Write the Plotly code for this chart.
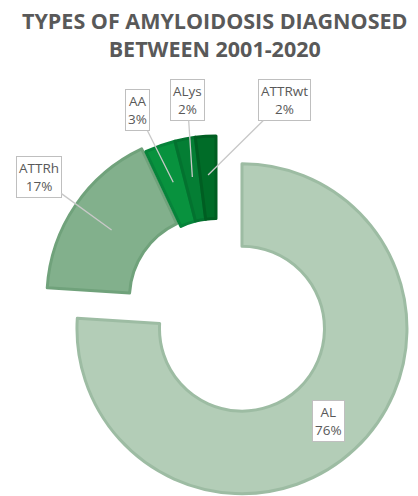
import numpy as np
import plotly.graph_objects as go

# Amyloidosis types diagnosed 2001-2020 (share of cases, %)
types = ["AL", "ATTRh", "AA", "ALys", "ATTRwt"]
shares = [76, 17, 3, 2, 2]
fills = ["#b3cdb7", "#82b08c", "#08923e", "#047e34", "#006c28"]
edges = ["#9dbca3", "#70a27b", "#06833a", "#03722f", "#005e22"]
title_lines = ["TYPES OF AMYLOIDOSIS DIAGNOSED", "BETWEEN 2001-2020"]

W, H = 418, 496
R = 165            # ring radius in px
CX, CY = 216, 301  # ring centre in px
HOLE = 0.5
PULL_AL = 0.23     # AL segment is pulled out of the ring
PULL_SMALL = [0, 0.03, 0, 0, 0]
CLEAR = "rgba(0,0,0,0)"

vals = np.array(shares, dtype=float)
frac = vals / vals.sum()
start = np.concatenate([[0], np.cumsum(frac)[:-1]]) * 360
mid = np.radians(start + frac * 180)   # clockwise from 12 o'clock


def to_paper(px, py):
    return px / W, 1 - py / H


def domain(cx, cy, half):
    x0, y1 = to_paper(cx - half, cy - half)
    x1, y0 = to_paper(cx + half, cy + half)
    return dict(x=[x0, x1], y=[y0, y1])


# centre of the pulled AL segment
ax_c = CX + PULL_AL * R * np.sin(mid[0])
ay_c = CY - PULL_AL * R * np.cos(mid[0])

common = dict(labels=types, values=shares, hole=HOLE, sort=False,
              direction="clockwise", rotation=0, textinfo="none",
              showlegend=False, hoverinfo="label+percent")

fig = go.Figure()
# AL segment
fig.add_trace(go.Pie(
    **common,
    domain=domain(ax_c, ay_c, R),
    marker=dict(colors=[fills[0]] + [CLEAR] * 4,
                line=dict(color=[edges[0]] + [CLEAR] * 4, width=3)),
))
# remaining segments
fig.add_trace(go.Pie(
    **common,
    pull=PULL_SMALL,
    domain=domain(CX, CY, R * (1 + max(PULL_SMALL))),
    marker=dict(colors=[CLEAR] + fills[1:],
                line=dict(color=[CLEAR] + edges[1:], width=3)),
))

# callout boxes: offsets (px) of the box centre from the segment
box_offsets = {"ATTRh": (-73, -53), "AA": (-36, -72),
               "ALys": (-5, -77), "ATTRwt": (76, -75)}
ring_mid = 0.765
label_font = dict(family="Open Sans", size=13.5, color="#595959")
box_style = dict(xref="paper", yref="paper", xanchor="center",
                 yanchor="middle", font=label_font, bgcolor="white",
                 bordercolor="#bfbfbf", borderwidth=1, borderpad=2)

for i, name in enumerate(types):
    text = f"{name}<br>{shares[i]}%"
    if i == 0:
        px = ax_c + ring_mid * R * np.sin(mid[i])
        py = ay_c - ring_mid * R * np.cos(mid[i])
        x, y = to_paper(px, py)
        fig.add_annotation(x=x, y=y, text=text, showarrow=False, **box_style)
    else:
        px = CX + ring_mid * R * np.sin(mid[i])
        py = CY - ring_mid * R * np.cos(mid[i])
        x, y = to_paper(px, py)
        dx, dy = box_offsets[name]
        fig.add_annotation(x=x, y=y, text=text, showarrow=True, arrowhead=0,
                           arrowwidth=1.3, arrowcolor="#c8c8c8", ax=dx, ay=dy,
                           standoff=0, **box_style)

# two-line heading
tx, ty = to_paper(215, 34)
fig.add_annotation(x=tx, y=ty, xref="paper", yref="paper",
                   text="<b>" + "<br>".join(title_lines) + "</b>",
                   showarrow=False, xanchor="center", yanchor="middle",
                   font=dict(family="Open Sans", size=21.5, color="#595959"))

fig.update_layout(
    width=W, height=H,
    margin=dict(l=0, r=0, t=0, b=0),
    paper_bgcolor="white", plot_bgcolor="white",
)

fig.write_html("out.html")
